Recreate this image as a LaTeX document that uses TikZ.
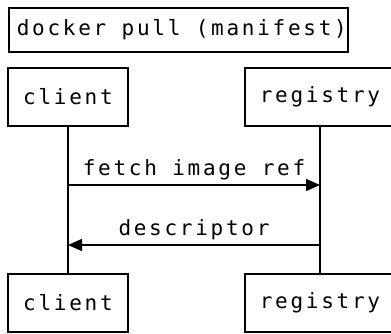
\documentclass[tikz,border=0pt]{standalone}
\usepackage{fontspec}
\setmonofont[LetterSpace=13]{DejaVu Sans Mono}
\usepackage{tikz}
\usetikzlibrary{positioning}
\usetikzlibrary{arrows.meta}

\tikzset{
	seqfont/.style={font=\ttfamily\fontsize{21}{25}\selectfont},
	actorbox/.style={draw, line width=1.6pt, seqfont, minimum width=120pt, minimum height=58pt, inner sep=0pt},
	titlebox/.style={draw, line width=1.6pt, seqfont, inner xsep=8pt, inner ysep=0pt, minimum height=44pt},
	lifeline/.style={line width=1.6pt},
	msg/.style={line width=1.6pt, -{Triangle[length=14pt,width=12pt]}},
	msglabel/.style={seqfont, inner sep=4pt}
}

\begin{document}
\begin{tikzpicture}[x=1pt, y=-1pt]
				\useasboundingbox (0,0) rectangle (391,333);
				%Nodes
				\node[titlebox, anchor=west] 	(title) 	at 	(8,30) 	{\makebox[323pt][l]{docker pull (manifest)}};
				\node[actorbox] 	(clienttop) 	at 	(68,97) 	{client};
				\node[actorbox, minimum width=150pt] 	(registrytop) 	at 	(320,97) 	{registry};
				\node[actorbox] 	(clientbot) 	at 	(68,303) 	{client};
				\node[actorbox, minimum width=150pt] 	(registrybot) 	at 	(320,303) 	{registry};
				\coordinate      (c1) 	at 	(68,185);
				\coordinate      (r1) 	at 	(320,185);
				\coordinate      (c2) 	at 	(68,245);
				\coordinate      (r2) 	at 	(320,245);

				%Lines
				\draw[lifeline] (clienttop) -- (clientbot);
				\draw[lifeline] (registrytop) -- (registrybot);
				\draw[msg] (c1) -- node[msglabel, above] (fetchlabel) {fetch image ref} (r1);
				\draw[msg] (r2) -- node[msglabel, above] (desclabel) {descriptor} (c2);

\end{tikzpicture}
\end{document}
